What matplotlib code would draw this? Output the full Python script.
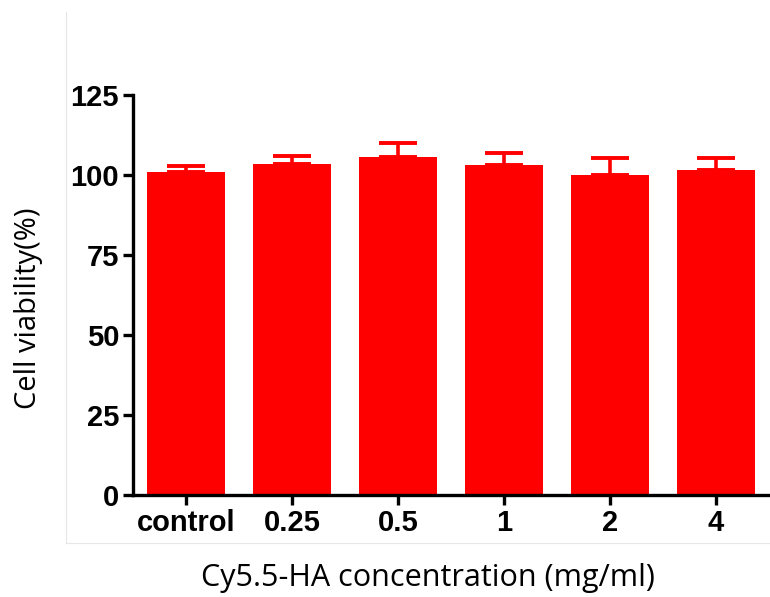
import matplotlib
matplotlib.use('Agg')
import matplotlib.pyplot as plt
from matplotlib.lines import Line2D

groups = ['control', '0.25', '0.5', '1', '2', '4']
viability = [101.0, 103.3, 105.7, 103.1, 100.0, 101.6]
err = [1.9, 2.7, 4.2, 3.7, 5.4, 3.8]

red = '#ff0000'

fig = plt.figure(figsize=(7.7, 5.97), dpi=100)
ax = fig.add_axes([133/770, 1-495/597, 1-133/770, 400/597])

x = range(len(groups))
ax.bar(x, viability, width=0.74, color=red, zorder=2)
ax.errorbar(x, viability, yerr=[[0]*len(err), err], fmt='none',
            ecolor=red, elinewidth=2.6, capsize=13.5, capthick=2.8, zorder=3)

ax.set_xlim(-0.5, 5.51)
ax.set_ylim(0, 125)
ax.set_yticks([0, 25, 50, 75, 100, 125])
ax.set_xticks(list(x))
ax.set_xticklabels(groups)

for s in ['top', 'right']:
    ax.spines[s].set_visible(False)
for s in ['left', 'bottom']:
    ax.spines[s].set_linewidth(2.4)
ax.tick_params(width=2.4, length=7, direction='out', pad=3)
for lab in ax.get_xticklabels() + ax.get_yticklabels():
    lab.set_fontfamily('Liberation Sans')
    lab.set_fontweight('bold')
    lab.set_fontsize(21)

fig.text(428/770, 1-578/597, 'Cy5.5-HA concentration (mg/ml)', ha='center', va='center',
         fontsize=22, family='Open Sans')
fig.text(29/770, 1-308/597, 'Cell viability(%)', ha='center', va='center', rotation=90,
         fontsize=21, family='Open Sans')

# faint frame of the pasted picture
fig.add_artist(Line2D([65.5/770, 65.5/770], [1-12/597, 1-543/597], color='#e6e6e6', lw=0.8))
fig.add_artist(Line2D([65.5/770, 1], [1-543/597, 1-543/597], color='#e6e6e6', lw=0.8))

fig.savefig('out.png', dpi=100)
